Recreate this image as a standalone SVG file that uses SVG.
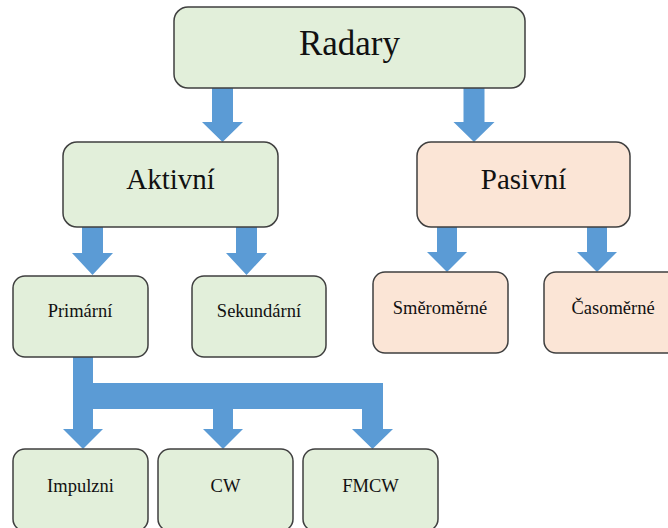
<svg xmlns="http://www.w3.org/2000/svg" width="668" height="528" viewBox="0 0 668 528">
<style>
.box{stroke:#3f3f3f;stroke-width:1.5}
.g{fill:#e2efda}
.p{fill:#fbe5d6}
.arr{fill:#5b9bd5;stroke:none}
text{font-family:'Liberation Serif','Times New Roman',serif;fill:#111;text-anchor:middle}
.big{font-size:35px}
.mid{font-size:29px}
.sm{font-size:18.5px}
</style>
<rect width="668" height="528" fill="#ffffff"/>
<g id="connectors">
<polygon class="arr" points="212,88 233,88 233,122 243,122 222.5,142 202,122 212,122"/>
<polygon class="arr" points="463.5,88 484.5,88 484.5,122 494.5,122 474,142 453.5,122 463.5,122"/>
<polygon class="arr" points="82,227 103,227 103,253 113,253 92.5,275 72,253 82,253"/>
<polygon class="arr" points="236,227 257,227 257,253 267,253 246.5,275 226,253 236,253"/>
<polygon class="arr" points="437,227 457,227 457,252 467,252 447,272 427,252 437,252"/>
<polygon class="arr" points="587,227 607,227 607,252 617,252 597,272 577,252 587,252"/>
<polygon class="arr" points="73,357 93,357 93,429 103,429 83,449 63,429 73,429"/>
<rect class="arr" x="73" y="383" width="310" height="26"/>
<polygon class="arr" points="213,409 233,409 233,429 243,429 223,449 203,429 213,429"/>
<polygon class="arr" points="362,409 383,409 383,429 393,429 372.5,449 352,429 362,429"/>
</g>
<g id="radary"><rect class="box g" x="174" y="7" width="351" height="81" rx="14"/><text class="big" x="349.5" y="55">Radary</text></g>
<g id="aktivni"><rect class="box g" x="63" y="142" width="215" height="85" rx="14"/><text class="mid" x="170.5" y="189">Aktivní</text></g>
<g id="pasivni"><rect class="box p" x="417" y="142" width="213" height="85" rx="14"/><text class="mid" x="523.5" y="189">Pasivní</text></g>
<g id="primarni"><rect class="box g" x="13" y="276" width="135" height="81" rx="12"/><text class="sm" x="80" y="317">Primární</text></g>
<g id="sekundarni"><rect class="box g" x="192" y="276" width="134" height="81" rx="12"/><text class="sm" x="259" y="317">Sekundární</text></g>
<g id="smeromerne"><rect class="box p" x="373" y="272" width="135" height="81" rx="12"/><text class="sm" x="440" y="314">Směroměrné</text></g>
<g id="casomerne"><rect class="box p" x="544" y="272" width="135" height="81" rx="12"/><text class="sm" x="613" y="314">Časoměrné</text></g>
<g id="impulzni"><rect class="box g" x="13" y="449" width="135" height="82" rx="12"/><text class="sm" x="80.5" y="492">Impulzni</text></g>
<g id="cw"><rect class="box g" x="158" y="449" width="135" height="82" rx="12"/><text class="sm" x="225.5" y="492">CW</text></g>
<g id="fmcw"><rect class="box g" x="303" y="449" width="135" height="82" rx="12"/><text class="sm" x="370.5" y="492">FMCW</text></g>
</svg>
